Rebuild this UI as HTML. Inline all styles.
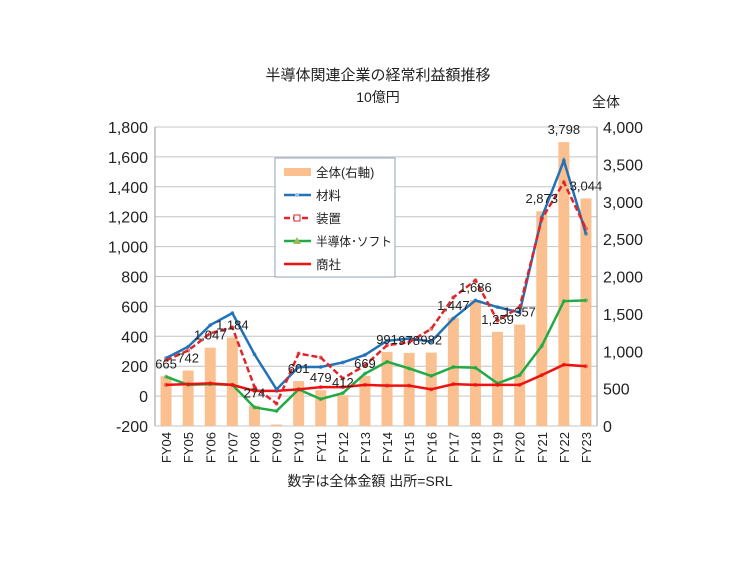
<!DOCTYPE html>
<html><head><meta charset="utf-8"><style>
body{margin:0;background:#fff;}
svg text{font-family:"Liberation Sans","Noto Sans CJK JP",sans-serif;fill:#222;}
</style></head><body>
<svg width="755" height="566" viewBox="0 0 755 566">
<g id="grid"></g><g id="bars"></g><g id="lines"></g><g id="labels"></g><g id="axes"></g>
<text x="378" y="80" font-size="15" text-anchor="middle">半導体関連企業の経常利益額推移</text>
<text x="378" y="102" font-size="14" text-anchor="middle">10億円</text>
<text x="606" y="107" font-size="14" text-anchor="middle">全体</text>
<text x="370" y="486" font-size="14" text-anchor="middle">数字は全体金額  出所=SRL</text>
<g>
<rect x="275" y="158" width="120" height="119" fill="#fff" stroke="#8fa6bd"/>
<rect x="284" y="168" width="27" height="8" fill="#FAC090"/>
<text x="316" y="177" font-size="12.5">全体(右軸)</text>
<line x1="284" y1="195" x2="311" y2="195" stroke="#2272B8" stroke-width="2.5"/><circle cx="297" cy="195" r="2" fill="#9cc3e5"/>
<text x="316" y="200" font-size="12.5">材料</text>
<line x1="284" y1="218" x2="311" y2="218" stroke="#E0252A" stroke-width="2.5" stroke-dasharray="6,3"/><rect x="294" y="215" width="6" height="6" fill="#fff" stroke="#E0252A"/>
<text x="316" y="223" font-size="12.5">装置</text>
<line x1="284" y1="241" x2="311" y2="241" stroke="#22AA44" stroke-width="2.5"/><path d="M297 237 L301 244 L293 244Z" fill="#9bbb59"/>
<text x="316" y="246" font-size="12.5" textLength="76" lengthAdjust="spacingAndGlyphs">半導体･ソフト</text>
<line x1="284" y1="264" x2="311" y2="264" stroke="#EE1111" stroke-width="2.5"/>
<text x="316" y="269" font-size="12.5">商社</text>
</g>
</svg>
<script>
const cats=["FY04","FY05","FY06","FY07","FY08","FY09","FY10","FY11","FY12","FY13","FY14","FY15","FY16","FY17","FY18","FY19","FY20","FY21","FY22","FY23"];
const totals=[665,742,1047,1184,274,20,601,479,412,669,991,978,982,1447,1686,1259,1357,2873,3798,3044];
const totalLabels=["665","742","1,047","1,184","274","","601","479","412","669","991","978","982","1,447","1,686","1,259","1,357","2,873","3,798","3,044"];
const materials=[254,330,475,555,280,45,195,195,225,275,370,385,365,520,640,595,560,1195,1575,1085];
const equipment=[240,305,420,460,62,-50,285,258,118,205,340,360,450,660,775,505,595,1185,1430,1120];
const semis=[130,75,80,75,-75,-100,45,-20,20,150,230,185,135,195,190,85,140,335,635,640];
const trading=[75,80,85,75,35,35,45,60,60,75,70,70,45,80,75,75,75,140,210,200];
const leftTicks=[-200,0,200,400,600,800,1000,1200,1400,1600,1800];
const rightTicks=[0,500,1000,1500,2000,2500,3000,3500,4000];
const X0=155,X1=597,YT=127,YB=426;
const NS="http://www.w3.org/2000/svg";
const bw=(X1-X0)/cats.length;
const xc=i=>X0+bw*(i+0.5);
const yL=v=>YB-(v+200)/2000*(YB-YT);
const yR=v=>YB-v/4000*(YB-YT);
const fmt=v=>v.toLocaleString("en-US");
function mk(t,a,p){const e=document.createElementNS(NS,t);for(const k in a)e.setAttribute(k,a[k]);document.getElementById(p).appendChild(e);return e;}
leftTicks.forEach(v=>{
 const l=mk("line",{x1:X0,x2:X1,y1:yL(v),y2:yL(v),stroke:"#c4c4c4","stroke-width":1},"grid");
 
 
 const t=mk("text",{x:X0-7,y:yL(v)+6,"font-size":16,"text-anchor":"end"},"axes");t.textContent=fmt(v);
 
 
});
rightTicks.forEach(v=>{
 const t=mk("text",{x:X1+6,y:yR(v)+6,"font-size":16},"axes");t.textContent=fmt(v);
 
 
});
mk("line",{x1:X0,x2:X0,y1:YT,y2:YB,stroke:"#999"},"axes");
mk("line",{x1:X1,x2:X1,y1:YT,y2:YB,stroke:"#999"},"axes");
cats.forEach((c,i)=>{
 const b=mk("rect",{x:xc(i)-5.5,y:yR(totals[i]),width:11,height:YB-yR(totals[i]),fill:"#FAC090"},"bars");
 
 
 const t=mk("text",{x:0,y:0,"font-size":13,"text-anchor":"end",transform:`translate(${xc(i)+5},432) rotate(-90)`},"axes");t.textContent=c;
 
 
 const l=mk("text",{x:xc(i),y:yR(totals[i])-8,"font-size":13,"text-anchor":"middle"},"labels");l.textContent=totalLabels[i];
 
 
});
function series(arr,color,dash,name){
 const p=mk("polyline",{points:arr.map((v,i)=>xc(i)+","+yL(v)).join(" "),fill:"none",stroke:color,"stroke-width":2.5,"stroke-dasharray":dash},"lines");
 
 
 arr.forEach((v,i)=>{
  const m=mk("circle",{cx:xc(i),cy:yL(v),r:2,fill:color,opacity:0.6},"lines");
  
  
 });
}
series(semis,"#22AA44","none","semis");
series(trading,"#EE1111","none","trading");
series(materials,"#2272B8","none","materials");
series(equipment,"#E0252A","6,3","equipment");
</script>
</body></html>
